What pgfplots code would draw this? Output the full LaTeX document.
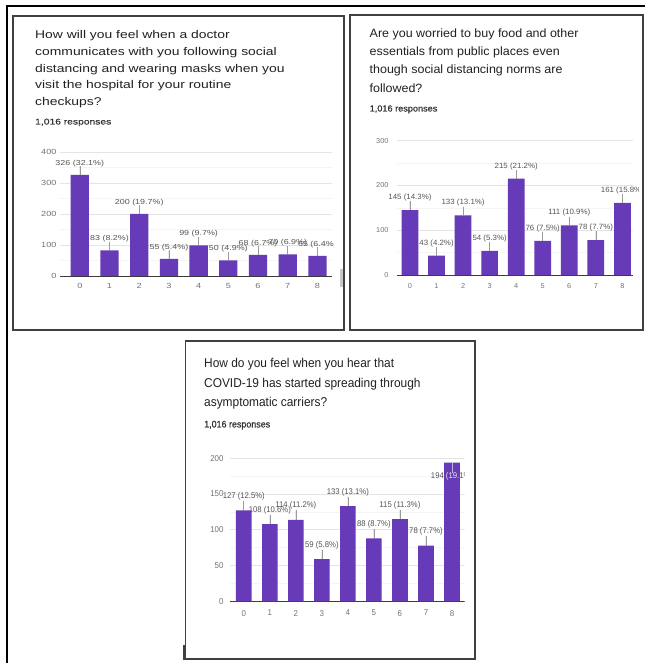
\documentclass[border=0pt]{standalone}
\usepackage{pgfplots}
\pgfplotsset{compat=1.18}
\usepackage{pgfplotstable}
\usepackage{fontspec}
\setmainfont{Liberation Sans}
% each panel is a screenshot with its own horizontal scaling
\newfontfamily\fA[FakeStretch=1.24]{Liberation Sans}
\newfontfamily\fB[FakeStretch=1.04]{Liberation Sans}
\newfontfamily\fC[FakeStretch=0.93]{Liberation Sans}
\newfontfamily\fAm[FakeStretch=1.24, FakeBold=0.6]{Liberation Sans}
\newfontfamily\fBm[FakeStretch=1.04, FakeBold=0.6]{Liberation Sans}
\newfontfamily\fCm[FakeStretch=0.93, FakeBold=0.6]{Liberation Sans}

\definecolor{barpurple}{RGB}{103,58,183}
\definecolor{titlec}{RGB}{32,33,36}
\definecolor{respc}{RGB}{50,52,56}
\definecolor{valc}{RGB}{85,85,85}
\definecolor{tickc}{RGB}{115,115,115}
\definecolor{stemc}{RGB}{155,155,155}
\definecolor{gridmaj}{RGB}{228,228,228}
\definecolor{gridmin}{RGB}{245,245,245}
\definecolor{basec}{RGB}{60,60,60}
\definecolor{framec}{RGB}{64,64,64}

% responses per option (0-8), 1,016 responses each
\pgfplotstableread{
x y lab
0 326 {326 (32.1\%)}
1 83 {83 (8.2\%)}
2 200 {200 (19.7\%)}
3 55 {55 (5.4\%)}
4 99 {99 (9.7\%)}
5 50 {50 (4.9\%)}
6 68 {68 (6.7\%)}
7 70 {70 (6.9\%)}
8 65 {65 (6.4\%)}
}\doctortable

\pgfplotstableread{
x y lab
0 145 {145 (14.3\%)}
1 43 {43 (4.2\%)}
2 133 {133 (13.1\%)}
3 54 {54 (5.3\%)}
4 215 {215 (21.2\%)}
5 76 {76 (7.5\%)}
6 111 {111 (10.9\%)}
7 78 {78 (7.7\%)}
8 161 {161 (15.8\%)}
}\foodtable

\pgfplotstableread{
x y e lab
0 127 13.3 {127 (12.5\%)}
1 108 13.3 {108 (10.6\%)}
2 114 13.3 {114 (11.2\%)}
3 59 13.3 {59 (5.8\%)}
4 133 13.3 {133 (13.1\%)}
5 88 13.3 {88 (8.7\%)}
6 115 13.3 {115 (11.3\%)}
7 78 13.3 {78 (7.7\%)}
8 194 0 {}
}\carriertable

\pgfplotsset{
  formchart/.style={
    scale only axis,
    anchor=south west,
    axis line style={draw=none},
    major tick length=0pt, minor tick length=0pt,
    xtick={0,...,8},
    ymin=0,
    ymajorgrids, yminorgrids, minor y tick num=1,
    major grid style={draw=gridmaj, line width=0.6pt},
    minor grid style={draw=gridmin, line width=0.6pt},
    extra y ticks={0}, extra y tick labels={},
    extra y tick style={ymajorgrids=true, yminorgrids=false,
      major grid style={draw=basec, line width=0.9pt}},
    /pgf/number format/assume math mode=true,
    yticklabel style={inner sep=0pt, text=tickc},
    xticklabel style={inner sep=0pt, text=tickc, anchor=north},
  },
}

\begin{document}
\begin{tikzpicture}
\useasboundingbox (0pt,0pt) rectangle (645pt,663pt);
\fill[white] (0pt,0pt) rectangle (645pt,663pt);

% ---------- question 1 ----------
\begin{scope}[text=titlec]
\node[anchor=base west, inner sep=0pt, font=\fA\fontsize{11.2}{13}\selectfont] at (35pt,624pt) {How will you feel when a doctor};
\node[anchor=base west, inner sep=0pt, font=\fA\fontsize{11.2}{13}\selectfont] at (35pt,607.3pt) {communicates with you following social};
\node[anchor=base west, inner sep=0pt, font=\fA\fontsize{11.2}{13}\selectfont] at (35pt,590.7pt) {distancing and wearing masks when you};
\node[anchor=base west, inner sep=0pt, font=\fA\fontsize{11.2}{13}\selectfont] at (35pt,574pt) {visit the hospital for your routine};
\node[anchor=base west, inner sep=0pt, font=\fA\fontsize{11.2}{13}\selectfont] at (35pt,557.3pt) {checkups?};
\node[anchor=base west, inner sep=0pt, text=respc, font=\fAm\fontsize{8.3}{10}\selectfont] at (35pt,538.5pt) {1,016 responses};
\end{scope}

\begin{scope}
\clip (14pt,334pt) rectangle (333.5pt,646pt);
\begin{axis}[formchart, at={(60pt,387pt)}, width=272pt, height=124pt,
  xmin=-0.667, xmax=8.49, ymax=400, ytick={0,100,200,300,400},
  yticklabel style={font=\fA\fontsize{7.4}{8}\selectfont, xshift=-3.3pt},
  xticklabel style={font=\fA\fontsize{7.4}{8}\selectfont, yshift=-7.3pt}]
\addplot[ybar, bar width=0.616, fill=barpurple, draw=none,
  nodes near coords, point meta=explicit symbolic,
  nodes near coords style={font=\fA\fontsize{7.2}{8}\selectfont, text=valc,
    anchor=center, yshift=11.5pt, inner sep=0pt},
  error bars/.cd, y dir=plus, y fixed=27.4, error mark=none,
  error bar style={draw=stemc, line width=0.6pt}]
  table[x=x, y=y, meta=lab] {\doctortable};
\end{axis}
\end{scope}

% ---------- question 2 ----------
\begin{scope}[text=titlec]
\node[anchor=base west, inner sep=0pt, font=\fB\fontsize{12}{14}\selectfont] at (369.5pt,625.4pt) {Are you worried to buy food and other};
\node[anchor=base west, inner sep=0pt, font=\fB\fontsize{12}{14}\selectfont] at (369.5pt,607.2pt) {essentials from public places even};
\node[anchor=base west, inner sep=0pt, font=\fB\fontsize{12}{14}\selectfont] at (369.5pt,589pt) {though social distancing norms are};
\node[anchor=base west, inner sep=0pt, font=\fB\fontsize{12}{14}\selectfont] at (369.5pt,570.8pt) {followed?};
\node[anchor=base west, inner sep=0pt, text=respc, font=\fBm\fontsize{8.8}{10}\selectfont] at (369.5pt,551.5pt) {1,016 responses};
\end{scope}

\begin{scope}
\clip (352pt,334pt) rectangle (638pt,646pt);
\begin{axis}[formchart, at={(396.7pt,388pt)}, width=236.3pt, height=134.3pt,
  xmin=-0.5, xmax=8.4, ymax=300, ytick={0,100,200,300},
  yticklabel style={font=\fB\fontsize{7.1}{8}\selectfont, xshift=-8pt},
  xticklabel style={font=\fB\fontsize{7.1}{8}\selectfont, yshift=-8.2pt}]
\addplot[ybar, bar width=0.63, fill=barpurple, draw=none,
  nodes near coords, point meta=explicit symbolic,
  nodes near coords style={font=\fB\fontsize{7.6}{9}\selectfont, text=valc,
    anchor=center, yshift=12.6pt, inner sep=0pt},
  error bars/.cd, y dir=plus, y fixed=19.4, error mark=none,
  error bar style={draw=stemc, line width=0.6pt}]
  table[x=x, y=y, meta=lab] {\foodtable};
\end{axis}
\end{scope}

% ---------- question 3 ----------
\begin{scope}[text=titlec]
\node[anchor=base west, inner sep=0pt, font=\fC\fontsize{12.8}{15}\selectfont] at (204pt,295.2pt) {How do you feel when you hear that};
\node[anchor=base west, inner sep=0pt, font=\fC\fontsize{12.8}{15}\selectfont] at (204pt,275.8pt) {COVID-19 has started spreading through};
\node[anchor=base west, inner sep=0pt, font=\fC\fontsize{12.8}{15}\selectfont] at (204pt,256.8pt) {asymptomatic carriers?};
\node[anchor=base west, inner sep=0pt, text=respc, font=\fCm\fontsize{9.6}{11}\selectfont] at (204pt,235.5pt) {1,016 responses};
\end{scope}

\begin{scope}
\clip (187pt,5pt) rectangle (464.5pt,320pt);
\begin{axis}[formchart, at={(230pt,61.7pt)}, width=235pt, height=143pt,
  xmin=-0.53, xmax=8.5, ymax=200, ytick={0,50,100,150,200},
  yticklabel style={font=\fC\fontsize{8.5}{10}\selectfont, xshift=-6.3pt},
  xticklabel style={font=\fC\fontsize{8.5}{10}\selectfont, yshift=-8.6pt}]
\addplot[ybar, bar width=0.6, fill=barpurple, draw=none,
  nodes near coords, point meta=explicit symbolic,
  nodes near coords style={font=\fC\fontsize{8.3}{10}\selectfont, text=valc,
    anchor=center, yshift=14pt, inner sep=0pt},
  error bars/.cd, y dir=plus, y explicit, error mark=none,
  error bar style={draw=stemc, line width=0.6pt}]
  table[x=x, y=y, meta=lab, y error=e] {\carriertable};
% the tallest bar carries its label inside, below the top
\addplot[draw=none, mark=none, forget plot,
  nodes near coords={194 (19.1\%)},
  nodes near coords style={font=\fC\fontsize{8.3}{10}\selectfont, text=valc,
    anchor=center, yshift=-13.5pt, inner sep=0pt},
  error bars/.cd, y dir=minus, y fixed=14, error mark=none,
  error bar style={draw=barpurple!40!white, line width=0.6pt}]
  coordinates {(8,194)};
\coordinate (b8lo) at (axis cs:7.7,0);
\coordinate (b8hi) at (axis cs:8.3,194);
\coordinate (b8top) at (axis cs:8,194);
\end{axis}
\begin{scope}
\clip (b8lo) rectangle (b8hi);
\node[font=\fC\fontsize{8.3}{10}\selectfont, text=white!88!barpurple,
  inner sep=0pt, anchor=center, yshift=-13.5pt] at (b8top) {194 (19.1\%)};
\end{scope}
\end{scope}

% ---------- frames ----------
\draw[black, line width=2pt] (7pt,0pt) -- (7pt,657pt) -- (645pt,657pt);
\draw[framec, line width=1.8pt] (13pt,333pt) rectangle (344.3pt,647pt);
\draw[framec, line width=1.8pt] (350.3pt,332.7pt) rectangle (643pt,648pt);
\draw[framec, line width=1.8pt] (185.5pt,4pt) rectangle (475.3pt,321.7pt);
\draw[framec, line width=2.4pt] (184pt,3pt) -- (184pt,18pt);
\fill[black!22] (340pt,376pt) rectangle (342.5pt,394pt);
\end{tikzpicture}
\end{document}
